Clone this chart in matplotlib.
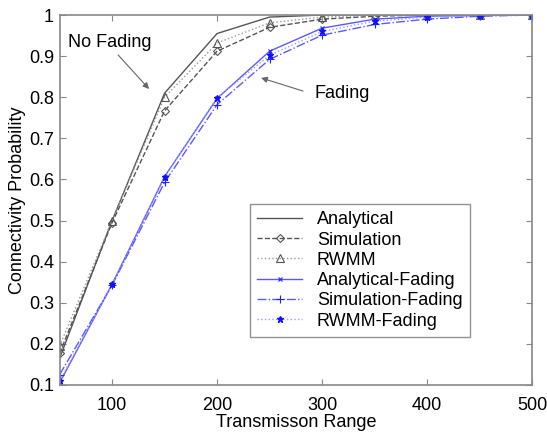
import numpy as np
import matplotlib
matplotlib.use('Agg')
import matplotlib.pyplot as plt

# transmission range (x) and connectivity probability for each curve
ranges = [50, 100, 150, 200, 250, 300, 350, 400, 450, 500]
analytical = [0.165, 0.50, 0.81, 0.955, 0.995, 1.0, 1.0, 1.0, 1.0, 1.0]
simulation = [0.177, 0.495, 0.767, 0.912, 0.970, 0.99, 0.997, 1.0, 1.0, 1.0]
rwmm = [0.195, 0.50, 0.80, 0.932, 0.981, 0.995, 0.999, 1.0, 1.0, 1.0]
analytical_fading = [0.105, 0.345, 0.607, 0.797, 0.912, 0.968, 0.99, 0.997, 0.999, 1.0]
simulation_fading = [0.125, 0.343, 0.593, 0.782, 0.892, 0.951, 0.977, 0.99, 0.997, 1.0]
rwmm_fading = [0.11, 0.345, 0.605, 0.799, 0.902, 0.96, 0.985, 0.995, 0.999, 1.0]

x_ticks = [100, 200, 300, 400, 500]
y_ticks = [0.1, 0.2, 0.3, 0.4, 0.5, 0.6, 0.7, 0.8, 0.9, 1.0]
y_tick_labels = ['0.1', '0.2', '0.3', '0.4', '0.5', '0.6', '0.7', '0.8', '0.9', '1']

plt.rcParams['font.family'] = ['Liberation Sans', 'DejaVu Sans']

fig = plt.figure(figsize=(5.47, 4.34), dpi=100)
ax = fig.add_axes([0.109, 0.113, 0.8636, 0.8524])

gray = '#555555'
blue = '#5a5aff'
fs = 13

ax.plot(ranges, analytical, '-', color=gray, lw=1.0, label='Analytical')
ax.plot(ranges, simulation, '--', color=gray, lw=1.0, marker='D', ms=4.5,
        mfc='none', mec=gray, mew=0.8, label='Simulation')
ax.plot(ranges, rwmm, ':', color='#999999', lw=1.0, marker='^', ms=5.5,
        mfc='none', mec=gray, mew=0.8, label='RWMM')
ax.plot(ranges, analytical_fading, '-', color=blue, lw=1.0, marker='x', ms=3.5,
        mec='#2222ff', mew=0.8, label='Analytical-Fading')
ax.plot(ranges, simulation_fading, '-.', color=blue, lw=1.0, marker='+', ms=6,
        mec='#2222ff', mew=0.8, label='Simulation-Fading')
ax.plot(ranges, rwmm_fading, ':', color='#9999ff', lw=1.0, marker='*', ms=5,
        mfc='#1111ff', mec='#1111ff', label='RWMM-Fading')

ax.set_xlim(50, 500)
ax.set_ylim(0.1, 1.0)
ax.set_xticks(x_ticks)
ax.set_yticks(y_ticks)
ax.set_yticklabels(y_tick_labels)
ax.tick_params(direction='in', top=True, right=True, length=4, color='#888888',
               labelsize=fs)
ax.tick_params(axis='x', pad=9)
ax.tick_params(axis='y', pad=4)
for s in ax.spines.values():
    s.set_color('#888888')
    s.set_linewidth(1.2)

ax.set_xlabel('Transmisson Range', fontsize=fs, labelpad=0)
ax.set_ylabel('Connectivity Probability', fontsize=fs, labelpad=2)

ax.annotate('', xy=(135.2, 0.820), xytext=(105.7, 0.903),
            arrowprops=dict(arrowstyle='-|>', color='#666666', lw=0.8,
                            mutation_scale=9, shrinkA=0, shrinkB=0))
ax.text(58, 0.934, 'No Fading', fontsize=fs, va='center', ha='left')
ax.annotate('', xy=(241.9, 0.847), xytext=(281.9, 0.815),
            arrowprops=dict(arrowstyle='-|>', color='#666666', lw=0.8,
                            mutation_scale=9, shrinkA=0, shrinkB=0))
ax.text(292.4, 0.810, 'Fading', fontsize=fs, va='center', ha='left')

leg = ax.legend(loc='upper left', bbox_to_anchor=(0.403, 0.489),
                fontsize=fs, frameon=True, fancybox=False,
                borderpad=0.4, labelspacing=0.18, handlelength=2.5,
                handletextpad=0.8, borderaxespad=0)
leg.get_frame().set_edgecolor('#777777')
leg.get_frame().set_linewidth(1.0)

fig.savefig('out.png', dpi=100)
